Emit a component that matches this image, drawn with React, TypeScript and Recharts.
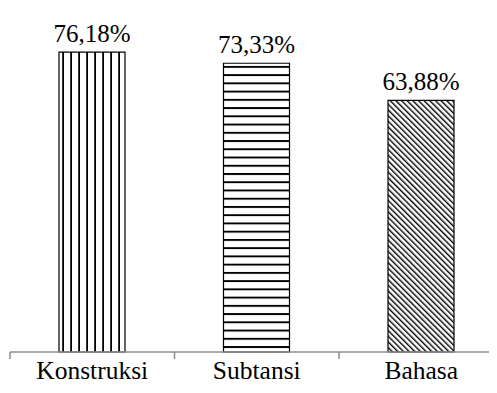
import React from 'react'
import { BarChart, Bar, XAxis, YAxis, LabelList, Cell } from 'recharts'

const categories = ['Konstruksi', 'Subtansi', 'Bahasa']
const values = [76.18, 73.33, 63.88]
const valueLabels = ['76,18%', '73,33%', '63,88%']
const patterns = ['url(#vert)', 'url(#horiz)', 'url(#diag)']

const data = categories.map((name, i) => ({ name, value: values[i], label: valueLabels[i] }))

const FONT = '"Liberation Serif", "Times New Roman", serif'
const BAND = 164.5

const CategoryTick = (props: any) => {
  const { x, y, payload } = props
  const left = x - BAND / 2
  return (
    <g>
      <line x1={left} y1={352} x2={left} y2={359} stroke="#8c8c8c" strokeWidth={1.5} />
      <text x={x} y={y + 19} textAnchor="middle" fontFamily={FONT} fontSize={25.5} fill="#000">
        {payload.value}
      </text>
    </g>
  )
}

const App = () => {
  return (
    <div style={{ margin: -8, width: 497, height: 393, overflow: 'hidden', background: '#fff' }}>
      <BarChart
        width={510}
        height={393}
        data={data}
        margin={{ top: 37, right: 6.5, left: 10, bottom: 0 }}
        barCategoryGap={0}
      >
        <defs>
          <pattern id="vert" patternUnits="userSpaceOnUse" width={8} height={8}>
            <rect x={0} y={0} width={8} height={8} fill="#fff" />
            <rect x={6.2} y={0} width={1.9} height={8} fill="#000" />
          </pattern>
          <pattern id="horiz" patternUnits="userSpaceOnUse" width={8} height={8.24}>
            <rect x={0} y={0} width={8} height={8.24} fill="#fff" />
            <rect x={0} y={0} width={8} height={1.9} fill="#000" />
          </pattern>
          <pattern
            id="diag"
            patternUnits="userSpaceOnUse"
            width={4}
            height={4}
            patternTransform="rotate(-45)"
          >
            <rect x={0} y={0} width={4} height={4} fill="#fff" />
            <rect x={0} y={0} width={1.4} height={4} fill="#000" />
          </pattern>
        </defs>
        <XAxis
          dataKey="name"
          height={41}
          axisLine={{ stroke: '#8c8c8c', strokeWidth: 1.5 }}
          tickLine={false}
          tick={<CategoryTick />}
          interval={0}
        />
        <YAxis hide domain={[0, 80]} />
        <Bar dataKey="value" barSize={66} stroke="#000" strokeWidth={1.2} isAnimationActive={false}>
          {data.map((d, i) => (
            <Cell key={d.name} fill={patterns[i]} />
          ))}
          <LabelList
            dataKey="label"
            position="top"
            offset={10}
            fill="#000"
            fontFamily={FONT}
            fontSize={25}
          />
        </Bar>
      </BarChart>
    </div>
  )
}

export default App
